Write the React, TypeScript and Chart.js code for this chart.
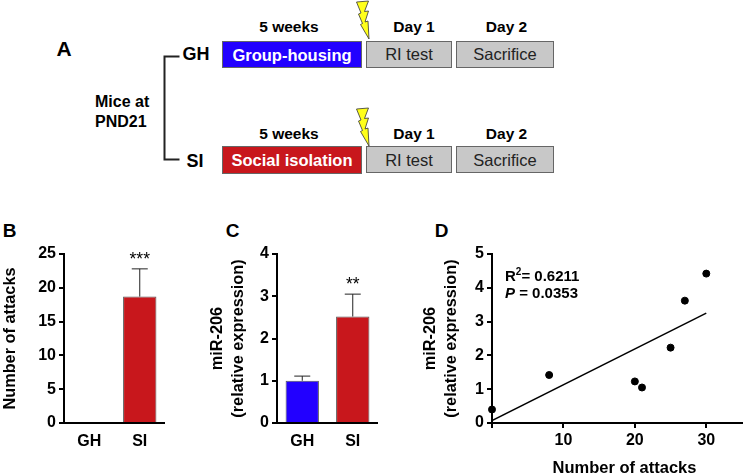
import React, { useEffect, useRef } from "react";
import { Chart, registerables } from "chart.js";

Chart.register(...registerables);

const groupLabels = ["GH", "SI"];
const attacksMean = [0, 18.7];
const attacksErr = [0, 4.1];
const attacksStars = ["", "***"];
const attacksTicks = [0, 5, 10, 15, 20, 25];

const mirMean = [1.0, 2.52];
const mirErr = [0.11, 0.53];
const mirStars = ["", "**"];
const mirTicks = [0, 1, 2, 3, 4];

const scatterX = [0, 8, 20, 21, 25, 27, 30];
const scatterY = [0.4, 1.42, 1.23, 1.05, 2.23, 3.62, 4.42];
const fitX = [0, 30];
const fitY = [0.07, 3.25];
const scatterXTicks = [0, 10, 20, 30];
const scatterYTicks = [0, 1, 2, 3, 4, 5];

const RED = "#c8171c";
const BLUE = "#2200ff";
const FONT = "'Liberation Sans', Arial, sans-serif";
const CANVAS_TOP = 230;
const CANVAS_H = 244;

const errorPlugin = {
  id: "errorBars",
  afterDatasetsDraw(chart: any, _a: any, opts: any) {
    if (!opts.err) return;
    const { ctx } = chart;
    const x = chart.scales.x;
    const y = chart.scales.y;
    ctx.save();
    opts.err.forEach((e: number, i: number) => {
      const v = chart.data.datasets[0].data[i];
      const cx = x.getPixelForValue(i);
      const y0 = y.getPixelForValue(v);
      const y1 = y.getPixelForValue(v + e);
      if (e > 0) {
        ctx.strokeStyle = "#222";
        ctx.lineWidth = 1;
        ctx.beginPath();
        ctx.moveTo(cx, y0);
        ctx.lineTo(cx, y1);
        ctx.moveTo(cx - 8, y1);
        ctx.lineTo(cx + 8, y1);
        ctx.stroke();
      }
      const s = opts.stars?.[i];
      if (s) {
        ctx.fillStyle = "#000";
        ctx.font = `17.5px ${FONT}`;
        ctx.textAlign = "center";
        ctx.textBaseline = "middle";
        ctx.fillText(s, cx, y1 - 9);
      }
    });
    ctx.restore();
  },
};

const axisColor = "#000";
const tickFont = { family: FONT, size: 16, weight: "bold" as const };
const titleFont = { family: FONT, size: 16.3, weight: "bold" as const, lineHeight: 1.28 };

function yAxis(max: number, ticks: number[], title: string | string[], width: number) {
  return {
    type: "linear",
    min: 0,
    max,
    afterBuildTicks: (s: any) => { s.ticks = ticks.map((value) => ({ value })); },
    afterFit: (s: any) => { s.width = width; },
    border: { color: axisColor, width: 2 },
    grid: { drawOnChartArea: false, color: axisColor, lineWidth: 2, tickLength: 5 },
    ticks: { color: "#000", font: tickFont, padding: 3, autoSkip: false },
    title: { display: true, text: title, color: "#000", font: titleFont, padding: { top: 0, bottom: 0 } },
  };
}

function barConfig(means: number[], err: number[], stars: string[], colors: string[], max: number, ticks: number[], title: string | string[], width: number) {
  return {
    type: "bar",
    data: {
      labels: groupLabels,
      datasets: [{
        data: means,
        backgroundColor: colors,
        borderColor: "#555",
        borderWidth: 1,
        categoryPercentage: 1,
        barPercentage: 0.66,
      }],
    },
    options: {
      responsive: false,
      animation: false,
      layout: { padding: { top: 24, right: 0, left: 0, bottom: 0 } },
      plugins: { legend: { display: false }, tooltip: { enabled: false }, errorBars: { err, stars } },
      scales: {
        x: {
          afterFit: (s: any) => { s.height = 51; },
          border: { color: axisColor, width: 2 },
          grid: { display: false, drawTicks: false },
          ticks: { color: "#000", font: tickFont, padding: 9 },
        },
        y: yAxis(max, ticks, title, width),
      },
    },
    plugins: [errorPlugin],
  };
}

function scatterConfig() {
  return {
    type: "scatter",
    data: {
      datasets: [
        {
          data: scatterX.map((x, i) => ({ x, y: scatterY[i] })),
          backgroundColor: "#000",
          borderColor: "#000",
          pointRadius: 3.5,
          clip: false,
        },
        {
          type: "line",
          data: fitX.map((x, i) => ({ x, y: fitY[i] })),
          borderColor: "#000",
          borderWidth: 1.5,
          pointRadius: 0,
          fill: false,
        },
      ],
    },
    options: {
      responsive: false,
      animation: false,
      layout: { padding: { top: 24, right: 2, left: 0, bottom: 0 } },
      plugins: { legend: { display: false }, tooltip: { enabled: false } },
      scales: {
        x: {
          type: "linear",
          min: 0,
          max: 35,
          afterBuildTicks: (s: any) => { s.ticks = scatterXTicks.map((value) => ({ value })); },
          afterFit: (s: any) => { s.height = 51; },
          border: { color: axisColor, width: 2 },
          grid: { drawOnChartArea: false, color: axisColor, lineWidth: 2, tickLength: 5 },
          ticks: {
            color: "#000",
            font: tickFont,
            padding: 3,
            autoSkip: false,
            maxRotation: 0,
            callback: (v: number) => (v === 0 ? "" : String(v)),
          },
        },
        y: yAxis(5, scatterYTicks, ["miR-206", "(relative expression)"], 72),
      },
    },
  };
}

function ChartCanvas({ left, width, make }: { left: number; width: number; make: () => any }) {
  const ref = useRef<HTMLCanvasElement>(null);
  useEffect(() => {
    const c = new Chart(ref.current as any, make());
    return () => c.destroy();
  }, []);
  return (
    <canvas
      ref={ref}
      width={width}
      height={CANVAS_H}
      style={{ position: "absolute", left, top: CANVAS_TOP, width, height: CANVAS_H }}
    />
  );
}

function Txt({ x, y, size, children, color = "#000", weight = "bold", align = "center" }: any) {
  const tx = align === "center" ? "-50%" : "0";
  return (
    <div
      style={{
        position: "absolute",
        left: x,
        top: y,
        transform: `translate(${tx},-50%)`,
        fontFamily: FONT,
        fontSize: size,
        fontWeight: weight,
        color,
        whiteSpace: "nowrap",
        lineHeight: 1,
      }}
    >
      {children}
    </div>
  );
}

function Box({ x0, x1, y0, y1, fill, label, color, weight }: any) {
  return (
    <>
      <div
        style={{
          position: "absolute",
          left: x0,
          top: y0,
          width: x1 - x0,
          height: y1 - y0,
          boxSizing: "border-box",
          background: fill,
          border: "1px solid #666",
        }}
      />
      <Txt x={(x0 + x1) / 2} y={(y0 + y1) / 2} size={16.5} color={color} weight={weight}>{label}</Txt>
    </>
  );
}

function Bolt({ dy }: { dy: number }) {
  return (
    <polygon
      transform={`translate(0,${dy})`}
      points="356.5,2 368.5,1 364.5,11.5 368.5,11 365,22 368,21 369,39 360.5,24.5 362.5,23.5 358.5,14 361,13"
      fill="#ffff1a"
      stroke="#333"
      strokeWidth={0.8}
    />
  );
}

function Row({ y0, y1, labelY, fill, label }: any) {
  return (
    <>
      <Txt x={289} y={labelY} size={15.5}>5 weeks</Txt>
      <Txt x={414} y={labelY} size={15.5}>Day 1</Txt>
      <Txt x={506.5} y={labelY} size={15.5}>Day 2</Txt>
      <Box x0={222} x1={362} y0={y0} y1={y1} fill={fill} label={label} color="#fff" weight="bold" />
      <Box x0={366} x1={452} y0={y0} y1={y1 - 0.5} fill="#c8c8c8" label="RI test" color="#222" weight="normal" />
      <Box x0={456} x1={554} y0={y0} y1={y1 - 0.5} fill="#c8c8c8" label="Sacrifice" color="#222" weight="normal" />
    </>
  );
}

export default function App() {
  useEffect(() => {
    document.body.style.margin = "0";
  }, []);
  return (
    <div style={{ position: "relative", width: 747, height: 474, background: "#fff", overflow: "hidden" }}>
      <svg width={747} height={200} style={{ position: "absolute", left: 0, top: 0 }}>
        <polyline points="179.5,56.5 164.5,56.5 164.5,159.5 179.5,159.5" fill="none" stroke="#222" strokeWidth={2} />
        <Bolt dy={0} />
        <Bolt dy={107} />
      </svg>
      <Txt x={64} y={48} size={21}>A</Txt>
      <Txt x={196} y={54} size={18}>GH</Txt>
      <Txt x={195} y={161} size={18}>SI</Txt>
      <Txt x={95} y={102} size={16} align="left">Mice at</Txt>
      <Txt x={95} y={122} size={16} align="left">PND21</Txt>
      <Row y0={41} y1={68} labelY={26.5} fill={BLUE} label="Group-housing" />
      <Row y0={146} y1={173.5} labelY={134} fill={RED} label="Social isolation" />

      <Txt x={9.5} y={230} size={19}>B</Txt>
      <Txt x={232.5} y={230} size={19}>C</Txt>
      <Txt x={441.5} y={230} size={19}>D</Txt>

      <ChartCanvas left={0} width={165} make={() => barConfig(attacksMean, attacksErr, attacksStars, [RED, RED], 25, attacksTicks, "Number of attacks", 64)} />
      <ChartCanvas left={207} width={171} make={() => barConfig(mirMean, mirErr, mirStars, [BLUE, RED], 4, mirTicks, ["miR-206", "(relative expression)"], 70)} />
      <ChartCanvas left={420} width={327} make={scatterConfig} />

      <Txt x={624.5} y={467} size={16.5}>Number of attacks</Txt>
      <Txt x={505} y={275} size={15} align="left">R<sup style={{ fontSize: 10, lineHeight: 0 }}>2</sup>= 0.6211</Txt>
      <Txt x={505} y={291.5} size={15} align="left"><i>P</i> = 0.0353</Txt>
    </div>
  );
}
